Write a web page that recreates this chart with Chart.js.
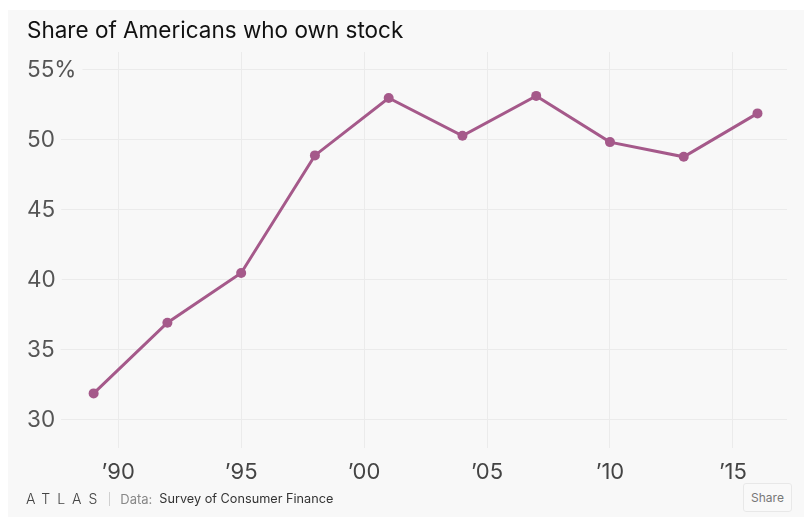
<!DOCTYPE html>
<html>
<head>
<meta charset="utf-8">
<script src="https://cdn.jsdelivr.net/npm/chart.js@4.4.1/dist/chart.umd.min.js"></script>
<style>
  html, body { margin: 0; padding: 0; background: #ffffff; }
  #wrap { position: relative; width: 804px; height: 517px; overflow: hidden; }
  #panel { position: absolute; left: 8px; top: 10px; right: 0; bottom: 0; background: #f8f8f8; }
  #chart { position: absolute; left: 0; top: 0; }
  #title {
    position: absolute; left: 27px; top: 16px; margin: 0;
    font-family: Inter, "Noto Sans", sans-serif; font-size: 22.5px; font-weight: 400;
    line-height: 1.2; color: #111; white-space: nowrap;
  }
  #footer {
    position: absolute; left: 26px; top: 490px; height: 18px;
    font-family: Inter, "Noto Sans", sans-serif; font-size: 13px; line-height: 18px;
    white-space: nowrap; display: flex; align-items: center;
  }
  #logo { letter-spacing: 7px; color: #444; font-weight: 300; font-size: 14px; }
  #sep { display: inline-block; width: 1px; height: 14px; background: #d0d0d0; margin: 0 10px 0 5px; }
  #src-label { color: #888; margin-right: 7px; }
  #src { color: #333; font-size: 12.7px; }
  #share {
    position: absolute; left: 743px; top: 483px; width: 47px; height: 27px;
    border: 1px solid #e8e8e8; border-radius: 3px; background: #f9f9f9;
    font-family: Inter, "Noto Sans", sans-serif; font-size: 12px; color: #777;
    display: flex; align-items: center; justify-content: center;
  }
</style>
</head>
<body>
<div id="wrap">
  <div id="panel"></div>
  <canvas id="chart" width="804" height="517"></canvas>
  <h1 id="title">Share of Americans who own stock</h1>
  <div id="footer">
    <span id="logo">ATLAS</span><span id="sep"></span><span id="src-label">Data:</span><span id="src">Survey of Consumer Finance</span>
  </div>
  <div id="share">Share</div>
</div>
<script>
// Survey years and share of Americans owning stock (percent)
const years = [1989, 1992, 1995, 1998, 2001, 2004, 2007, 2010, 2013, 2016];
const shares = [31.9, 36.95, 40.5, 48.9, 53.0, 50.3, 53.15, 49.85, 48.8, 51.9];

// Axis ticks
const xTicks = [1990, 1995, 2000, 2005, 2010, 2015];
const xTickLabels = ["’90", "’95", "’00", "’05", "’10", "’15"];
const yTicks = [30, 35, 40, 45, 50, 55];

const lineColor = '#a5598a';
const gridColor = '#ebebeb';
const bg = '#f8f8f8';

const points = years.map((yr, i) => ({ x: yr, y: shares[i] }));

new Chart(document.getElementById('chart'), {
  type: 'line',
  data: {
    datasets: [{
      data: points,
      borderColor: lineColor,
      backgroundColor: lineColor,
      borderWidth: 3,
      pointRadius: 5,
      pointHoverRadius: 5,
      pointBorderWidth: 0,
      tension: 0
    }]
  },
  options: {
    responsive: false,
    animation: false,
    events: [],
    layout: { padding: { left: 27, top: 52, right: 17, bottom: 33 } },
    plugins: { legend: { display: false }, tooltip: { enabled: false }, title: { display: false } },
    scales: {
      x: {
        type: 'linear',
        min: 1986.29,
        max: 2017.2,
        border: { display: false },
        grid: { color: gridColor, lineWidth: 1, drawTicks: false },
        afterBuildTicks: (scale) => { scale.ticks = xTicks.map(v => ({ value: v })); },
        afterFit: (scale) => { scale.height = 36; },
        ticks: {
          padding: 11,
          color: '#444',
          font: { family: 'Inter, "Noto Sans", sans-serif', size: 22 },
          maxRotation: 0,
          autoSkip: false,
          callback: (v) => {
            const i = xTicks.indexOf(v);
            return i >= 0 ? xTickLabels[i] : '';
          }
        }
      },
      y: {
        min: 28,
        max: 56.2857,
        border: { display: false },
        grid: { color: gridColor, lineWidth: 1, drawTicks: false },
        afterBuildTicks: (scale) => { scale.ticks = yTicks.map(v => ({ value: v })); },
        afterFit: (scale) => { scale.width = 0; },
        ticks: {
          mirror: true,
          crossAlign: 'near',
          padding: 0,
          color: '#555',
          font: { family: 'Inter, "Noto Sans", sans-serif', size: 22.5 },
          showLabelBackdrop: true,
          backdropColor: bg,
          backdropPadding: { top: 0, bottom: 0, left: 1, right: 6 },
          callback: (v) => (v === 55 ? '55%' : String(v))
        }
      }
    }
  }
});
</script>
</body>
</html>
